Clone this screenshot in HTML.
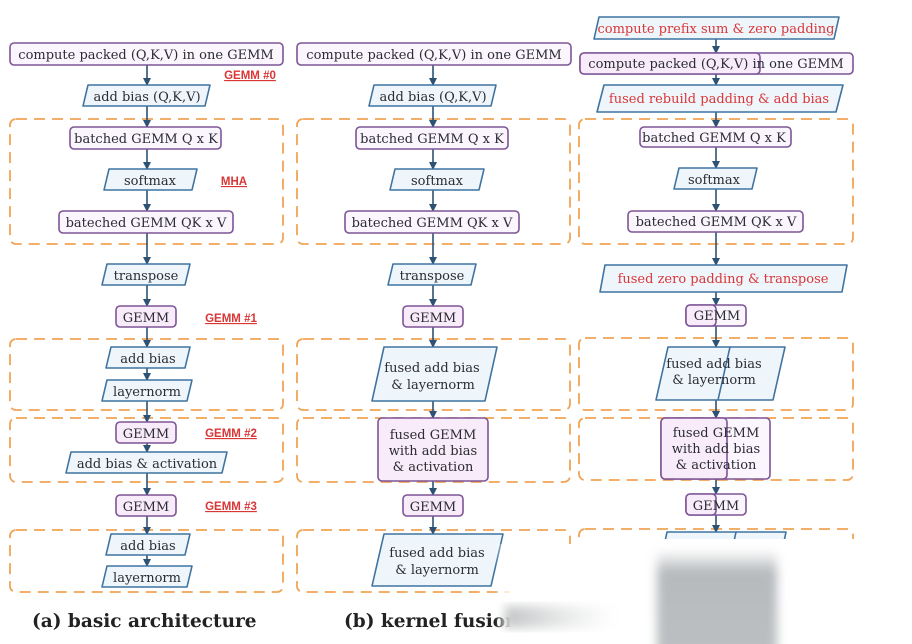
<!DOCTYPE html>
<html><head><meta charset="utf-8"><style>
html,body{margin:0;padding:0;background:#fff;}
svg{display:block;}
text{font-family:"DejaVu Serif","Liberation Serif",serif;font-size:13px;fill:#2b2b33;text-anchor:middle;}
.r{fill:#fbf6fd;stroke:#7d5596;stroke-width:1.6;}
.rp{fill:#f8ecfb;stroke:#7d5596;stroke-width:1.6;}
.p{fill:#eef6fc;stroke:#3f73a0;stroke-width:1.6;stroke-linejoin:round;}
.d{fill:none;stroke:#f0a455;stroke-width:1.8;stroke-dasharray:11 7;}
.a{stroke:#2d5273;stroke-width:1.6;marker-end:url(#ah);}
.red{fill:#d93636;}
.lab{font-family:"Liberation Sans",sans-serif;font-weight:bold;font-size:11.5px;fill:#d93636;text-decoration:underline;}
.cap{font-family:"DejaVu Serif",serif;font-weight:bold;font-size:18.5px;text-anchor:start;fill:#222;}
</style></head><body>
<svg width="912" height="644" viewBox="0 0 912 644" xmlns="http://www.w3.org/2000/svg">
<defs>
<marker id="ah" markerWidth="8" markerHeight="8" refX="7" refY="4" orient="auto" markerUnits="userSpaceOnUse"><path d="M0,0 L8,4 L0,8 z" fill="#2d5273"/></marker>
<linearGradient id="fade" x1="0" y1="0" x2="1" y2="0"><stop offset="0" stop-color="#fff" stop-opacity="0"/><stop offset="0.04" stop-color="#fff" stop-opacity="1"/><stop offset="1" stop-color="#fff" stop-opacity="1"/></linearGradient>
<linearGradient id="vg" x1="0" y1="0" x2="0" y2="1"><stop offset="0" stop-color="#b6babd" stop-opacity="0"/><stop offset="0.2" stop-color="#b6babd" stop-opacity="1"/><stop offset="1" stop-color="#bcc0c2" stop-opacity="1"/></linearGradient>
<linearGradient id="sm" x1="0" y1="0" x2="1" y2="0"><stop offset="0" stop-color="#a9acae" stop-opacity="0.9"/><stop offset="1" stop-color="#c8cacb" stop-opacity="0"/></linearGradient>
<filter id="bl" x="-20%" y="-20%" width="140%" height="140%"><feGaussianBlur stdDeviation="5"/></filter>
</defs>

<!-- dashed groups -->
<rect class="d" x="10" y="119" width="273" height="125" rx="6"/>
<rect class="d" x="10" y="339" width="273" height="71" rx="6"/>
<rect class="d" x="10" y="418" width="273" height="64" rx="6"/>
<rect class="d" x="10" y="530" width="273" height="62" rx="6"/>
<rect class="d" x="297" y="119" width="273" height="125" rx="6"/>
<rect class="d" x="297" y="339" width="273" height="71" rx="6"/>
<rect class="d" x="297" y="418" width="273" height="64" rx="6"/>
<rect class="d" x="297" y="530" width="273" height="62" rx="6"/>
<rect class="d" x="579" y="119" width="274" height="125" rx="6"/>
<rect class="d" x="579" y="338" width="274" height="72" rx="6"/>
<rect class="d" x="579" y="418" width="274" height="62" rx="6"/>
<rect class="d" x="579" y="529" width="274" height="70" rx="6"/>

<!-- column A arrows -->
<line class="a" x1="147" y1="65" x2="147" y2="85"/>
<line class="a" x1="147" y1="106" x2="147" y2="127"/>
<line class="a" x1="147" y1="149" x2="147" y2="169"/>
<line class="a" x1="147" y1="190" x2="147" y2="211"/>
<line class="a" x1="147" y1="233" x2="147" y2="264"/>
<line class="a" x1="147" y1="285" x2="147" y2="306"/>
<line class="a" x1="147" y1="327" x2="147" y2="347"/>
<line class="a" x1="147" y1="368" x2="147" y2="380"/>
<line class="a" x1="147" y1="401" x2="147" y2="422"/>
<line class="a" x1="147" y1="443" x2="147" y2="452"/>
<line class="a" x1="147" y1="473" x2="147" y2="495"/>
<line class="a" x1="147" y1="516" x2="147" y2="534"/>
<line class="a" x1="147" y1="555" x2="147" y2="566"/>
<!-- column A nodes -->
<rect class="r" x="10" y="43" width="273" height="22" rx="4"/><text x="146" y="59">compute packed (Q,K,V) in one GEMM</text>
<polygon class="p" points="88,85 210,85 205,106 83,106"/><text x="147" y="101">add bias (Q,K,V)</text>
<rect class="r" x="70" y="127" width="151" height="22" rx="4"/><text x="146" y="143">batched GEMM Q x K</text>
<polygon class="p" points="109,169 197,169 192,190 104,190"/><text x="150" y="185">softmax</text>
<rect class="r" x="59" y="211" width="174" height="22" rx="4"/><text x="146" y="227">bateched GEMM QK x V</text>
<polygon class="p" points="107,264 190,264 185,285 102,285"/><text x="146" y="280">transpose</text>
<rect class="rp" x="116" y="306" width="60" height="21" rx="4"/><text x="146" y="322">GEMM</text>
<polygon class="p" points="111,347 190,347 185,368 106,368"/><text x="148" y="363">add bias</text>
<polygon class="p" points="107,380 192,380 187,401 102,401"/><text x="147" y="396">layernorm</text>
<rect class="rp" x="116" y="422" width="60" height="21" rx="4"/><text x="146" y="438">GEMM</text>
<polygon class="p" points="71,452 227,452 222,473 66,473"/><text x="147" y="468">add bias &amp; activation</text>
<rect class="rp" x="116" y="495" width="60" height="21" rx="4"/><text x="146" y="511">GEMM</text>
<polygon class="p" points="111,534 190,534 185,555 106,555"/><text x="148" y="550">add bias</text>
<polygon class="p" points="107,566 192,566 187,587 102,587"/><text x="147" y="582">layernorm</text>
<text class="lab" x="250" y="79">GEMM #0</text>
<text class="lab" x="234" y="185">MHA</text>
<text class="lab" x="231" y="322">GEMM #1</text>
<text class="lab" x="231" y="437">GEMM #2</text>
<text class="lab" x="231" y="510">GEMM #3</text>

<!-- column B -->
<line class="a" x1="433" y1="65" x2="433" y2="85"/>
<line class="a" x1="433" y1="106" x2="433" y2="127"/>
<line class="a" x1="433" y1="149" x2="433" y2="169"/>
<line class="a" x1="433" y1="190" x2="433" y2="211"/>
<line class="a" x1="433" y1="233" x2="433" y2="264"/>
<line class="a" x1="433" y1="285" x2="433" y2="306"/>
<line class="a" x1="433" y1="327" x2="433" y2="347"/>
<line class="a" x1="433" y1="401" x2="433" y2="418"/>
<line class="a" x1="433" y1="481" x2="433" y2="495"/>
<line class="a" x1="433" y1="516" x2="433" y2="534"/>
<rect class="r" x="297" y="43" width="274" height="22" rx="4"/><text x="434" y="59">compute packed (Q,K,V) in one GEMM</text>
<polygon class="p" points="374,85 496,85 491,106 369,106"/><text x="433" y="101">add bias (Q,K,V)</text>
<rect class="r" x="356" y="127" width="152" height="22" rx="4"/><text x="432" y="143">batched GEMM Q x K</text>
<polygon class="p" points="395,169 484,169 479,190 390,190"/><text x="437" y="185">softmax</text>
<rect class="r" x="345" y="211" width="174" height="22" rx="4"/><text x="432" y="227">bateched GEMM QK x V</text>
<polygon class="p" points="393,264 476,264 471,285 388,285"/><text x="432" y="280">transpose</text>
<rect class="rp" x="403" y="306" width="60" height="21" rx="4"/><text x="433" y="322">GEMM</text>
<polygon class="p" points="384,347 497,347 485,401 372,401"/><text x="432" y="372">fused add bias</text><text x="433" y="389">&amp; layernorm</text>
<rect class="rp" x="378" y="418" width="110" height="63" rx="4"/><text x="433" y="439">fused GEMM</text><text x="433" y="455">with add bias</text><text x="433" y="471">&amp; activation</text>
<rect class="rp" x="403" y="495" width="60" height="21" rx="4"/><text x="433" y="511">GEMM</text>
<polygon class="p" points="384,534 503,534 491,586 372,586"/><text x="437" y="557">fused add bias</text><text x="437" y="574">&amp; layernorm</text>

<!-- column C -->
<line class="a" x1="716" y1="39" x2="716" y2="53"/>
<line class="a" x1="716" y1="74" x2="716" y2="85"/>
<line class="a" x1="716" y1="112" x2="716" y2="127"/>
<line class="a" x1="716" y1="147" x2="716" y2="168"/>
<line class="a" x1="716" y1="189" x2="716" y2="211"/>
<line class="a" x1="716" y1="232" x2="716" y2="265"/>
<line class="a" x1="716" y1="292" x2="716" y2="305"/>
<line class="a" x1="716" y1="326" x2="716" y2="347"/>
<line class="a" x1="716" y1="400" x2="716" y2="418"/>
<line class="a" x1="716" y1="479" x2="716" y2="494"/>
<line class="a" x1="716" y1="515" x2="716" y2="532"/>
<polygon class="p" points="599,17 839,17 834,39 594,39"/><text class="red" x="716" y="33">compute prefix sum &amp; zero padding</text>
<rect class="r" x="580" y="53" width="273" height="21" rx="4"/><rect class="rp" x="580" y="53" width="180" height="21" rx="4"/><text x="716" y="68">compute packed (Q,K,V) in one GEMM</text>
<polygon class="p" points="604,85 843,85 836,112 597,112"/><text class="red" x="719" y="103">fused rebuild padding &amp; add bias</text>
<rect class="r" x="640" y="127" width="151" height="20" rx="4"/><text x="714" y="142">batched GEMM Q x K</text>
<polygon class="p" points="679,168 757,168 752,189 674,189"/><text x="714" y="184">softmax</text>
<rect class="r" x="628" y="211" width="175" height="21" rx="4"/><text x="716" y="226">bateched GEMM QK x V</text>
<polygon class="p" points="605,265 847,265 842,292 600,292"/><text class="red" x="723" y="283">fused zero padding &amp; transpose</text>
<rect class="r" x="686" y="305" width="60" height="21" rx="4"/><rect class="rp" x="686" y="305" width="30" height="21" rx="4"/><text x="717" y="320">GEMM</text>
<polygon class="p" points="668,347 785,347 773,400 656,400"/><polyline points="730,347 718,400" fill="none" stroke="#3f73a0" stroke-width="1.6"/><text x="714" y="368">fused add bias</text><text x="714" y="384">&amp; layernorm</text>
<rect class="r" x="661" y="418" width="109" height="61" rx="4"/><rect class="rp" x="661" y="418" width="66" height="61" rx="4"/><text x="716" y="437">fused GEMM</text><text x="716" y="453">with add bias</text><text x="716" y="469">&amp; activation</text>
<rect class="r" x="686" y="494" width="60" height="21" rx="4"/><rect class="rp" x="686" y="494" width="30" height="21" rx="4"/><text x="716" y="510">GEMM</text>
<polygon class="p" points="667,532 786,532 774,590 655,590"/><line x1="736" y1="532" x2="730" y2="560" stroke="#3f73a0" stroke-width="1.6"/><text x="718" y="552">fused add bias</text>

<!-- captions -->
<text class="cap" x="32" y="627">(a) basic architecture</text>
<text class="cap" x="344" y="627">(b) kernel fusion</text>

<!-- faded bottom-right region -->
<rect x="495" y="544" width="417" height="100" fill="url(#fade)"/>
<rect x="580" y="539" width="332" height="8" fill="#fff"/>
<rect x="657" y="550" width="120" height="110" fill="url(#vg)" filter="url(#bl)"/>
<rect x="505" y="606" width="110" height="22" fill="url(#sm)" filter="url(#bl)" opacity="0.8"/>
</svg>
</body></html>
